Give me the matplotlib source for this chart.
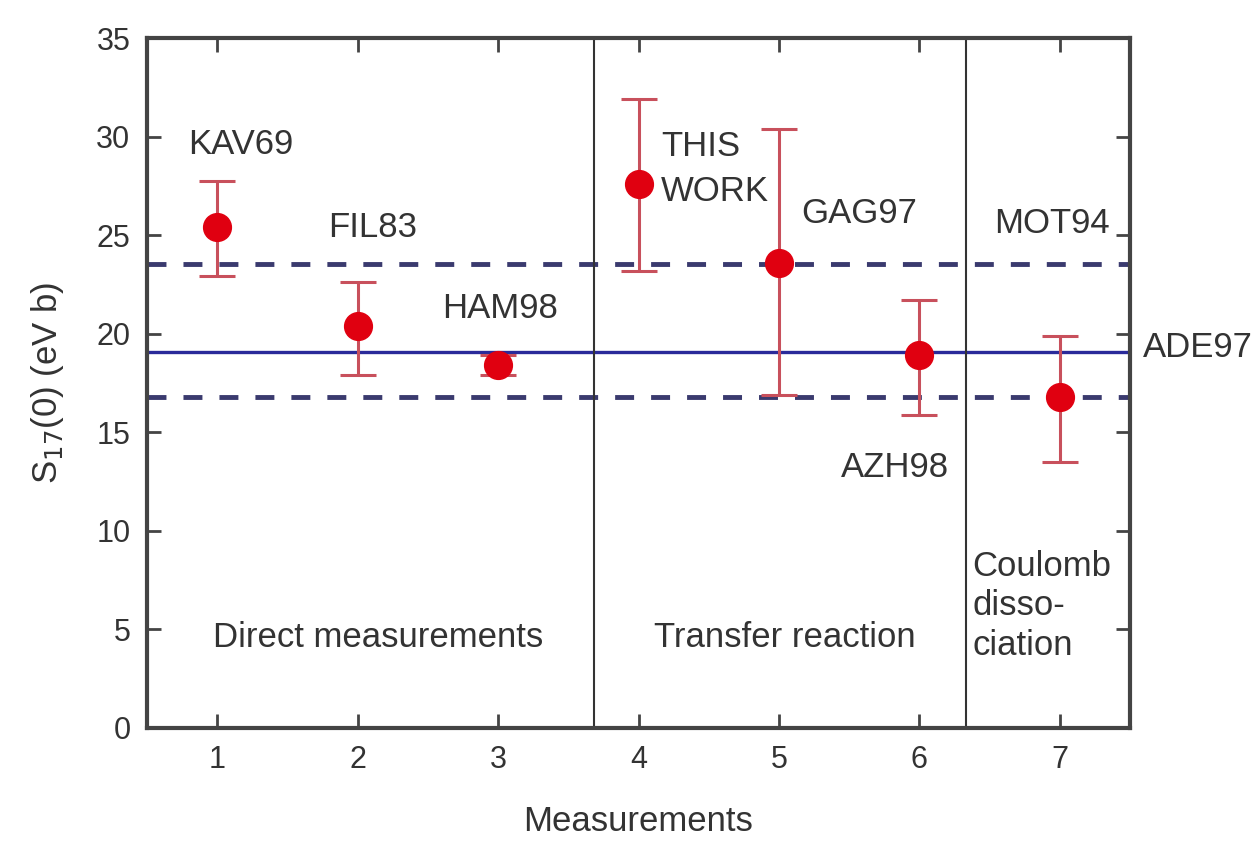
import numpy as np
import matplotlib
matplotlib.use("Agg")
import matplotlib.pyplot as plt

plt.rcParams['font.family'] = ['Liberation Sans', 'DejaVu Sans']

# S17(0) values per measurement (eV b) with asymmetric errors
x_meas = [1, 2, 3, 4, 5, 6, 7]
s17 = [25.4, 20.4, 18.4, 27.6, 23.6, 18.9, 16.8]
err_up = [2.35, 2.2, 0.5, 4.3, 6.8, 2.8, 3.1]
err_down = [2.45, 2.5, 0.5, 4.4, 6.7, 3.0, 3.3]

# reference value and its band
s17_ref = 19.05
band_hi = 23.55
band_lo = 16.8

# boundaries between measurement groups
group_edges = [3.68, 6.33]

# annotation labels (text, x, y)
ref_labels = [("KAV69", 0.79, 29.6), ("FIL83", 1.79, 25.4), ("HAM98", 2.6, 21.3),
              ("THIS", 4.16, 29.5), ("WORK", 4.16, 27.2), ("GAG97", 5.16, 26.1),
              ("MOT94", 6.53, 25.6), ("AZH98", 5.44, 13.2)]
group_labels = [("Direct measurements", 0.97, 4.6), ("Transfer reaction", 4.11, 4.6),
                ("Coulomb", 6.38, 8.2), ("disso-", 6.38, 6.2), ("ciation", 6.38, 4.2)]

fig = plt.figure(figsize=(12.59, 8.46), dpi=100)
ax = fig.add_axes([0.1168, 0.1395, 0.7807, 0.8155])

txt = '#333333'

ax.axhline(s17_ref, color='#2a2a9a', lw=2.4, zorder=2)
ax.axhline(band_hi, color='#3a3a6e', lw=3.5, ls=(0, (3.9, 3.5)), zorder=2)
ax.axhline(band_lo, color='#3a3a6e', lw=3.5, ls=(0, (3.9, 3.5)), zorder=2)
for xe in group_edges:
    ax.axvline(xe, color='#333333', lw=1.5, zorder=2)

ax.errorbar(x_meas, s17, yerr=[err_down, err_up], fmt='o', color='#e00010',
            markersize=20, ecolor='#c8505c', elinewidth=2.2, capsize=13,
            capthick=2.2, zorder=3)

for t, xt, yt in ref_labels:
    ax.text(xt, yt, t, fontsize=25, color=txt, ha='left', va='center')
ax.text(1.013, 19.3, "ADE97", fontsize=25, color=txt, ha='left', va='center',
        transform=ax.get_yaxis_transform())
for t, xt, yt in group_labels:
    ax.text(xt, yt, t, fontsize=25, color=txt, ha='left', va='center')

ax.set_xlim(0.5, 7.5)
ax.set_ylim(0, 35)
ax.set_xticks(x_meas)
ax.set_yticks(np.arange(0, 36, 5))
ax.tick_params(direction='in', length=10, width=2, labelsize=22, colors='#444444',
               labelcolor=txt, top=True, right=True, pad=12)
for sp in ax.spines.values():
    sp.set_linewidth(3)
    sp.set_color('#444444')

ax.set_xlabel("Measurements", fontsize=25, color=txt, labelpad=22)
ax.set_ylabel(r"S$_{17}$(0) (eV b)", fontsize=25, color=txt, labelpad=22)

fig.savefig("out.png", dpi=100)
